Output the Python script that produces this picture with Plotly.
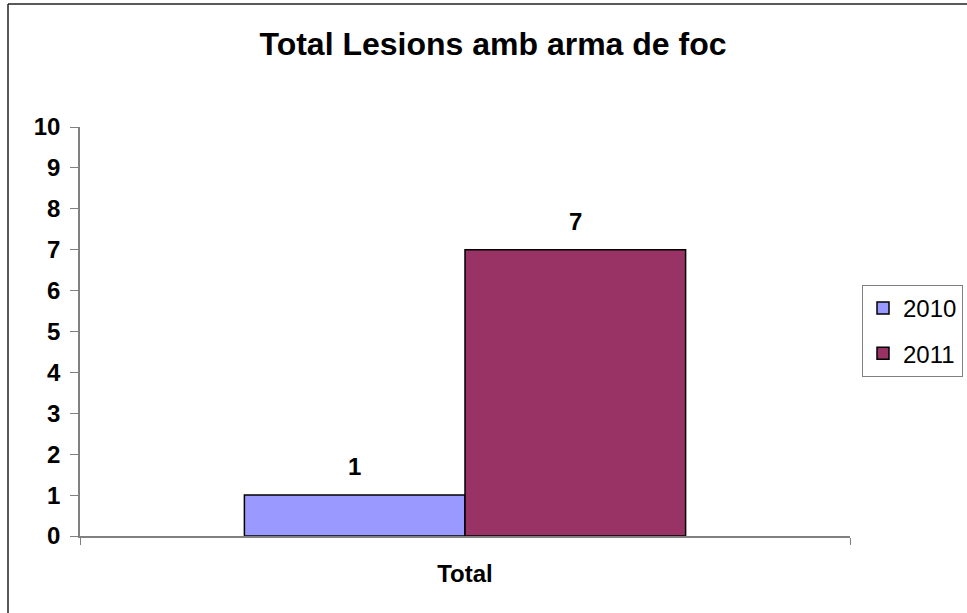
import plotly.graph_objects as go

categories = ["Total"]
series_names = ["2010", "2011"]
values_2010 = [1]
values_2011 = [7]
colors = ["#9999FF", "#993366"]
y_ticks = list(range(0, 11))

W, H = 967, 613
L, R, T, B = 80, 117, 127, 77
BARGAP = 0.427
plot_w = W - L - R
plot_h = H - T - B
bar_w_px = plot_w * (1 - BARGAP) / len(series_names)

fig = go.Figure()
for name, vals, col in zip(series_names, [values_2010, values_2011], colors):
    fig.add_trace(go.Bar(
        x=categories, y=vals, name=name, legendgroup=name,
        marker=dict(color=col, line=dict(color="#000000", width=1.5)),
        cliponaxis=False,
    ))

# value labels above each bar
for i, vals in enumerate([values_2010, values_2011]):
    offset = (i - (len(series_names) - 1) / 2) * bar_w_px
    for c, v in zip(categories, vals):
        fig.add_annotation(x=c, y=v, text=f"<b>{v}</b>", showarrow=False,
                           xshift=offset, yshift=13, yanchor="bottom",
                           font=dict(size=24, family="Liberation Sans, Arial", color="#000000"))

fig.update_layout(
    width=W, height=H, autosize=False,
    margin=dict(l=L, r=R, t=T, b=B, autoexpand=False),
    paper_bgcolor="#FFFFFF", plot_bgcolor="#FFFFFF",
    barmode="group", bargap=BARGAP, bargroupgap=0,
    font=dict(family="Liberation Sans, Arial", color="#000000"),
    title=dict(text="<b>Total Lesions amb arma de foc</b>", x=(493 - L) / plot_w, xref="paper",
               xanchor="center", y=1 - 44 / H, yanchor="middle",
               font=dict(size=32, family="Liberation Sans, Arial")),
    xaxis=dict(showline=True, linecolor="#808080", linewidth=1.5,
               ticks="outside", tickson="boundaries", ticklen=7, tickcolor="#808080",
               tickfont=dict(size=24), showgrid=False,
               tickvals=categories, ticktext=["<b>Total</b>"], ticklabelstandoff=15),
    yaxis=dict(range=[0, 10], tickvals=y_ticks, ticktext=[f"<b>{t}</b>" for t in y_ticks],
               showline=True, linecolor="#808080", linewidth=1.5,
               ticks="outside", ticklen=8, tickcolor="#808080",
               tickfont=dict(size=24), showgrid=False, zeroline=False,
               ticklabelstandoff=5),
    legend=dict(xref="container", yref="container", x=862 / W, y=1 - 331 / H,
                xanchor="left", yanchor="middle",
                bordercolor="#808080", borderwidth=1, tracegroupgap=11,
                font=dict(size=24), itemwidth=30),
    showlegend=True,
)

# outer chart border (left and top edges visible)
bx = (8 - L) / plot_w
by = (H - B - 4) / plot_h
fig.add_shape(type="line", xref="paper", yref="paper",
              x0=bx, x1=bx, y0=-B / plot_h, y1=by,
              line=dict(color="#222222", width=1.5))
fig.add_shape(type="line", xref="paper", yref="paper",
              x0=bx, x1=(W - L) / plot_w, y0=by, y1=by,
              line=dict(color="#222222", width=1.5))

fig.write_html("out.html", config={"displayModeBar": False},
               post_script="document.body.style.margin='0';")
